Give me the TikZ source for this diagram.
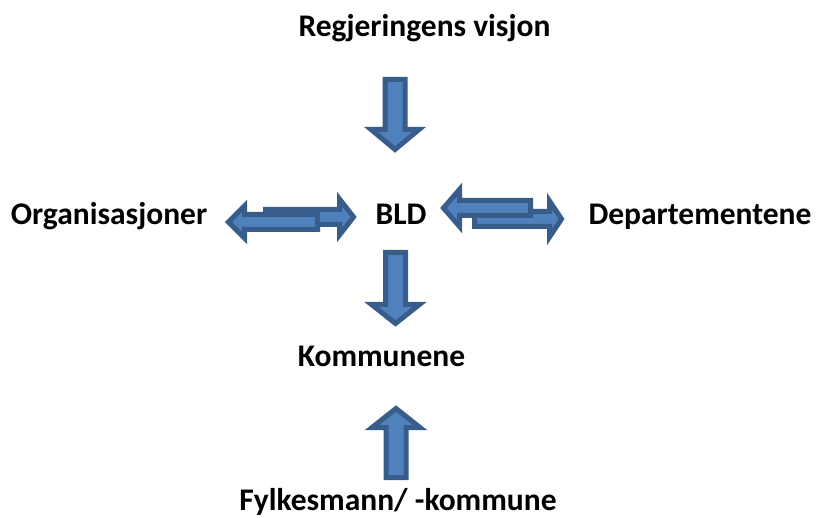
\documentclass[tikz,border=0pt]{standalone}
\usepackage{fontspec}
\setmainfont{Carlito}
\definecolor{arrfill}{HTML}{4F81BD}
\definecolor{arrline}{HTML}{385D8A}
\tikzset{
  lbl/.style={inner sep=0pt, anchor=base, font=\fontsize{31.5}{37}\selectfont\bfseries},
  blockarrow/.style={fill=arrfill, draw=arrline, line width=5pt, line join=miter},
  pics/barrow/.style args={#1/#2/#3/#4}{code={
    \draw[blockarrow] (0,-#2) -- (#1-#4,-#2) -- (#1-#4,-#3) -- (#1,0)
      -- (#1-#4,#3) -- (#1-#4,#2) -- (0,#2) -- cycle;}}
}
\begin{document}
\begin{tikzpicture}[x=1pt,y=1pt]
\useasboundingbox (0,0) rectangle (816,-518);
% labels
\node[lbl] (visjon) at (424.5,-37) {Regjeringens visjon};
\node[lbl] (org) at (109,-225) {Organisasjoner};
\node[lbl] (bld) at (401,-225) {BLD};
\node[lbl] (dep) at (700,-225) {Departementene};
\node[lbl] (komm) at (381.5,-366) {Kommunene};
\node[lbl] (fylke) at (398,-510) {Fylkesmann/ -kommune};
% vertical arrows
\pic[rotate=-90] at (395,-79.5) {barrow={70/10/24/20}};
\pic[rotate=-90] at (395.5,-252.5) {barrow={71/10/24/19}};
\pic[rotate=90] at (396,-477.5) {barrow={69/10/24/19}};
% left pair
\pic at (265.5,-217) {barrow={88/7.5/18/14}};
\pic[rotate=180] at (317.5,-222) {barrow={89/7.5/16/16}};
% right pair
\pic at (474.5,-219) {barrow={87/7.5/18/12}};
\pic[rotate=180] at (530.5,-208) {barrow={87/7.5/18.5/16}};
\end{tikzpicture}
\end{document}
